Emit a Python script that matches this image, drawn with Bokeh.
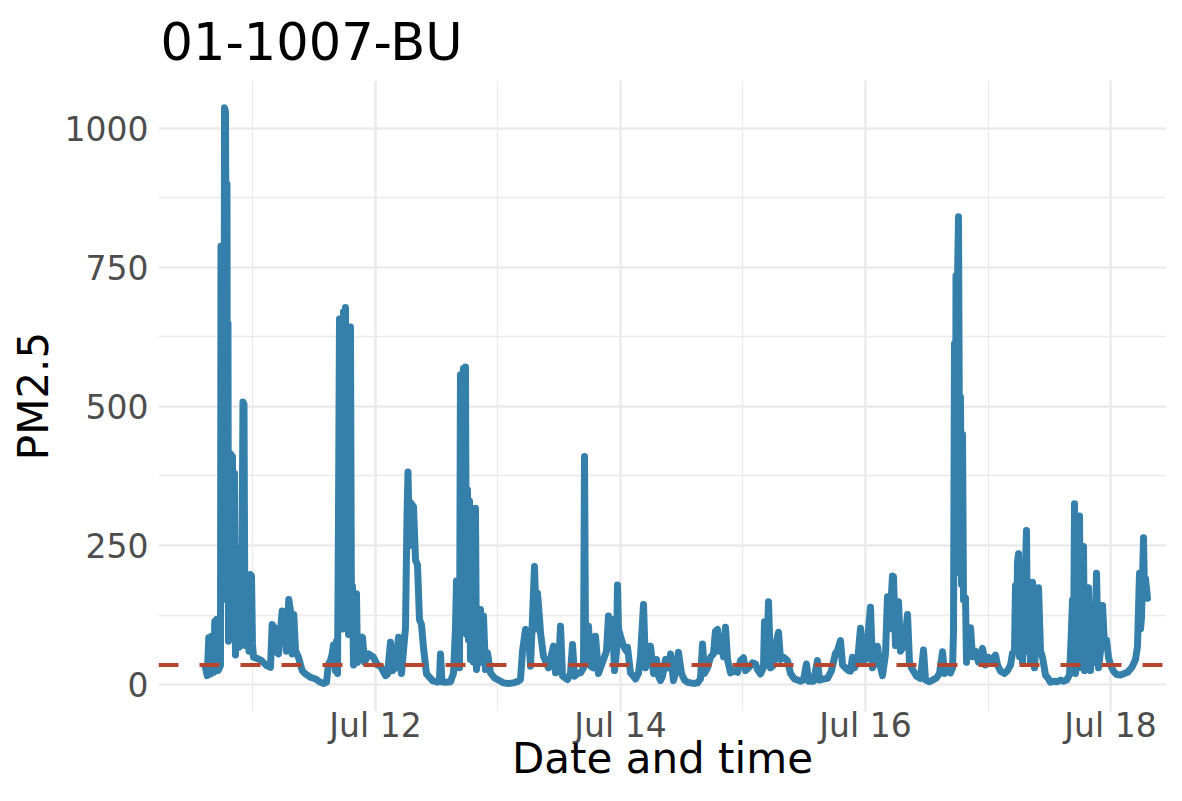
import pandas as pd
from bokeh.plotting import figure
from bokeh.models import Range1d, FixedTicker, DatetimeTickFormatter, Span
from bokeh.embed import file_html
from bokeh.resources import INLINE

title_text = "01-1007-BU"
x_title = "Date and time"
y_title = "PM2.5"
start = "2023-07-10 00:00"
threshold = 35

# hours since start, and PM2.5 readings
hours = [
    14.69, 15.03, 15.34, 15.67, 15.87, 16.32, 16.52, 16.85, 17.18, 17.63,
    17.73, 17.93, 18.12, 18.32, 18.42, 18.61, 18.81, 18.91, 19.00, 19.10,
    19.20, 19.40, 19.59, 19.98, 20.18, 20.38, 20.57, 20.77, 21.06, 21.26,
    21.55, 21.75, 22.04, 22.24, 22.43, 22.73, 22.92, 23.22, 23.51, 23.71,
    23.90, 24.10, 25.08, 25.67, 26.65, 27.43, 27.76, 28.21, 28.41, 29.00,
    29.72, 29.98, 30.37, 30.56, 31.01, 31.35, 31.68, 31.99, 32.33, 32.91,
    33.64, 34.29, 35.27, 36.25, 37.22, 37.81, 38.40, 38.79, 39.18, 39.52,
    39.77, 40.16, 40.36, 40.56, 40.75, 40.95, 41.14, 41.34, 41.54, 41.73,
    41.93, 42.12, 42.32, 42.51, 42.71, 42.91, 43.10, 43.30, 43.49, 43.69,
    43.89, 44.28, 44.47, 44.87, 45.45, 45.85, 46.63, 47.61, 48.39, 48.98,
    49.96, 50.35, 50.94, 51.33, 51.92, 52.51, 53.09, 53.88, 54.17, 54.37,
    54.66, 54.86, 55.45, 55.84, 56.23, 56.62, 57.01, 57.40, 57.99, 59.17,
    60.15, 60.54, 60.74, 61.03, 61.71, 62.69, 63.28, 63.67, 63.87, 64.07,
    64.46, 64.65, 64.85, 65.05, 65.24, 65.44, 65.63, 65.83, 66.03, 66.22,
    66.42, 66.61, 67.00, 67.20, 67.59, 67.79, 68.18, 68.57, 68.77, 69.16,
    69.55, 69.94, 70.53, 71.31, 71.90, 73.08, 74.06, 75.04, 76.02, 76.41,
    76.80, 77.39, 77.98, 78.37, 78.76, 79.15, 79.54, 79.74, 80.13, 80.33,
    80.91, 81.89, 82.87, 83.27, 83.85, 84.25, 84.64, 85.62, 86.20, 86.60,
    86.99, 87.58, 88.16, 88.75, 88.95, 89.14, 89.34, 89.73, 90.12, 90.71,
    91.10, 91.69, 92.28, 92.67, 93.26, 93.65, 94.04, 94.43, 94.83, 95.22,
    95.41, 95.61, 96.00, 96.59, 97.18, 97.37, 97.96, 98.55, 98.94, 99.53,
    99.92, 100.51, 100.90, 101.49, 101.88, 102.47, 103.05, 103.45, 103.84, 104.23,
    104.82, 105.41, 105.80, 106.38, 106.97, 107.36, 107.95, 108.54, 109.13, 109.72,
    110.30, 111.09, 111.67, 112.07, 112.46, 113.05, 113.63, 114.22, 114.61, 115.01,
    115.40, 115.79, 116.18, 116.57, 116.97, 117.55, 118.14, 118.92, 119.51, 120.10,
    120.49, 121.08, 121.86, 122.45, 122.84, 123.43, 124.02, 124.21, 124.61, 125.00,
    125.39, 125.98, 126.37, 126.96, 127.35, 127.94, 128.72, 129.31, 130.09, 130.68,
    131.27, 131.85, 132.44, 132.83, 133.81, 134.60, 134.99, 135.77, 136.56, 137.34,
    138.12, 138.52, 139.10, 139.50, 140.08, 140.67, 141.06, 141.45, 141.85, 142.43,
    143.02, 143.41, 144.00, 144.39, 144.98, 145.37, 145.96, 146.35, 146.74, 147.33,
    147.92, 148.31, 148.70, 149.29, 149.49, 149.88, 150.47, 150.86, 151.45, 151.84,
    152.23, 152.62, 153.01, 153.41, 153.99, 154.78, 155.36, 155.76, 156.54, 157.13,
    157.91, 158.50, 159.09, 159.48, 160.07, 160.65, 161.05, 161.24, 161.44, 161.63,
    161.73, 161.93, 162.03, 162.22, 162.42, 162.61, 162.81, 163.01, 163.20, 163.59,
    163.79, 163.99, 164.38, 164.57, 164.96, 165.55, 166.14, 166.53, 166.92, 167.51,
    168.10, 168.69, 169.47, 169.86, 170.45, 171.23, 171.82, 172.41, 172.80, 173.19,
    173.39, 173.59, 173.78, 173.98, 174.17, 174.37, 174.76, 175.15, 175.54, 175.74,
    176.13, 176.33, 176.72, 177.11, 177.50, 177.90, 178.29, 178.68, 179.27, 179.85,
    180.25, 180.83, 181.62, 182.21, 182.79, 183.38, 183.97, 184.36, 184.56, 184.75,
    184.95, 185.14, 185.34, 185.54, 185.73, 185.93, 186.12, 186.32, 186.52, 186.71,
    186.91, 187.10, 187.30, 187.69, 188.08, 188.48, 188.87, 189.26, 189.65, 190.04,
    190.44, 190.83, 191.22, 191.61, 192.00, 192.59, 193.18, 193.96, 194.74, 195.33,
    195.92, 196.31, 196.90, 197.29, 197.68, 197.88, 198.07, 198.47, 198.66, 198.86,
    199.25,
]
pm25 = [
    31, 16, 84, 19, 87, 22, 114, 117, 25, 34,
    788, 300, 780, 200, 1037, 1030, 600, 900, 150, 650,
    78, 90, 415, 410, 100, 380, 53, 150, 245, 67,
    240, 80, 508, 504, 70, 100, 180, 60, 198, 195,
    73, 49, 46, 43, 34, 31, 108, 102, 60, 55,
    132, 120, 114, 60, 153, 132, 55, 126, 61, 49,
    25, 19, 13, 10, 4, 2, 4, 37, 43, 55,
    71, 25, 78, 20, 300, 657, 200, 640, 100, 670,
    300, 678, 150, 640, 90, 620, 643, 100, 177, 35,
    60, 163, 40, 75, 85, 40, 55, 49, 35, 33,
    16, 18, 76, 25, 30, 85, 20, 102, 300, 382,
    250, 327, 320, 224, 215, 117, 108, 67, 19, 7,
    4, 10, 55, 5, 4, 5, 20, 100, 186, 60,
    30, 557, 100, 540, 568, 200, 571, 90, 350, 80,
    330, 45, 314, 40, 317, 27, 60, 135, 40, 123,
    27, 57, 21, 12, 9, 3, 2, 3, 6, 9,
    60, 99, 93, 33, 120, 212, 100, 164, 120, 93,
    51, 30, 69, 21, 25, 105, 15, 9, 20, 72,
    15, 20, 21, 30, 410, 100, 60, 105, 33, 30,
    87, 20, 35, 45, 60, 123, 70, 117, 25, 60,
    179, 100, 87, 69, 60, 67, 21, 15, 10, 20,
    51, 144, 30, 50, 69, 20, 45, 15, 7, 15,
    45, 30, 55, 7, 30, 58, 20, 8, 4, 3,
    2, 3, 10, 73, 20, 30, 49, 55, 96, 99,
    60, 80, 50, 103, 45, 21, 25, 22, 43, 48,
    25, 30, 39, 37, 27, 19, 31, 113, 40, 149,
    30, 35, 69, 94, 45, 49, 43, 20, 10, 8,
    6, 8, 37, 6, 6, 43, 8, 10, 11, 25,
    56, 61, 79, 35, 30, 25, 24, 49, 30, 40,
    101, 45, 45, 80, 139, 30, 40, 69, 40, 16,
    55, 158, 100, 195, 194, 70, 149, 60, 69, 90,
    126, 40, 30, 24, 15, 11, 62, 8, 5, 8,
    12, 20, 59, 20, 25, 21, 30, 94, 613, 200,
    735, 300, 730, 841, 400, 517, 180, 450, 152, 156,
    40, 101, 60, 102, 50, 60, 40, 50, 65, 35,
    49, 40, 53, 35, 24, 20, 25, 35, 56, 60,
    178, 60, 220, 235, 50, 200, 40, 150, 277, 60,
    130, 40, 184, 30, 100, 174, 60, 49, 17, 10,
    4, 6, 5, 8, 6, 8, 17, 100, 152, 40,
    325, 20, 280, 190, 30, 303, 40, 120, 30, 248,
    25, 160, 40, 174, 25, 100, 40, 200, 30, 60,
    142, 70, 80, 49, 35, 24, 18, 17, 20, 22,
    28, 33, 45, 69, 200, 100, 120, 264, 160, 190,
    155,
]

x_major_days = ["2023-07-12", "2023-07-14", "2023-07-16", "2023-07-18"]
x_minor_days = ["2023-07-11", "2023-07-13", "2023-07-15", "2023-07-17"]
y_major = [0, 250, 500, 750, 1000]
y_minor = [125, 375, 625, 875]

t0 = pd.Timestamp(start)
times = [t0 + pd.Timedelta(hours=h) for h in hours]


def ms(d):
    return pd.Timestamp(d).value // 10**6


FONT = "DejaVu Sans"
LINE_COLOR = "#3480AB"
REF_COLOR = "#B5452F"
GRID = "#EBEBEB"

p = figure(
    width=1166, height=785, output_backend="svg", toolbar_location=None,
    x_axis_type="datetime",
    x_range=Range1d(t0 + pd.Timedelta(hours=5.49), t0 + pd.Timedelta(hours=202.97)),
    y_range=Range1d(-48.5, 1086),
    min_border_left=158, min_border_top=80, min_border_bottom=73, min_border_right=0,
)
p.background_fill_color = "white"
p.border_fill_color = "white"
p.outline_line_color = None

p.line(times, pm25, line_color=LINE_COLOR, line_width=7,
       line_join="round", line_cap="round")

p.add_layout(Span(location=threshold, dimension="width", line_color=REF_COLOR,
                  line_width=4, line_dash="20 21"))

# axes
p.xaxis.ticker = FixedTicker(ticks=[ms(d) for d in x_major_days],
                             minor_ticks=[ms(d) for d in x_minor_days])
fmt = "%b %d"
p.xaxis.formatter = DatetimeTickFormatter(
    milliseconds=fmt, seconds=fmt, minsec=fmt, minutes=fmt, hourmin=fmt,
    hours=fmt, days=fmt, months=fmt, years=fmt)
p.yaxis.ticker = FixedTicker(ticks=y_major, minor_ticks=y_minor)

for ax in (p.xaxis, p.yaxis):
    ax.axis_line_color = None
    ax.major_tick_line_color = None
    ax.minor_tick_line_color = None
    ax.major_tick_out = 0
    ax.major_tick_in = 0
    ax.minor_tick_out = 0
    ax.minor_tick_in = 0
    ax.major_label_text_font = FONT
    ax.major_label_text_font_size = "33px"
    ax.major_label_text_color = "#4D4D4D"
    ax.axis_label_text_font = FONT
    ax.axis_label_text_font_size = "42px"
    ax.axis_label_text_font_style = "normal"
    ax.axis_label_text_color = "black"

p.xaxis.axis_label = x_title
p.xaxis.major_label_standoff = -6
p.xaxis.axis_label_standoff = -14
p.yaxis.axis_label = y_title
p.yaxis.major_label_standoff = 10
p.yaxis.axis_label_standoff = 4

p.xgrid.grid_line_color = GRID
p.xgrid.grid_line_width = 2.5
p.xgrid.minor_grid_line_color = GRID
p.xgrid.minor_grid_line_width = 1.3
p.ygrid.grid_line_color = GRID
p.ygrid.grid_line_width = 2.5
p.ygrid.minor_grid_line_color = GRID
p.ygrid.minor_grid_line_width = 1.3

p.title.text = title_text
p.title.text_font = FONT
p.title.text_font_size = "51px"
p.title.text_font_style = "normal"
p.title.text_color = "black"
p.title.align = "left"
p.title.offset = 2
p.title.standoff = 17

open("out.html", "w").write(file_html(p, INLINE))
